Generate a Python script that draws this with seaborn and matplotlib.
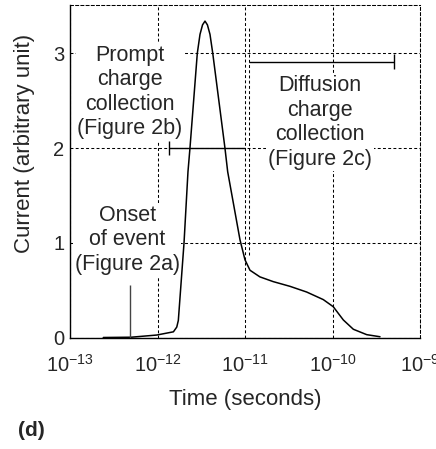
import matplotlib
matplotlib.use("Agg")
import matplotlib.pyplot as plt
import seaborn as sns
import pandas as pd

# --- Data ---
time_s = [2.40e-13, 5.0e-13, 9.8e-13, 1.52e-12, 1.66e-12, 1.73e-12, 2.01e-12,
          2.23e-12, 2.35e-12, 2.85e-12, 3.06e-12, 3.27e-12, 3.49e-12, 3.72e-12,
          3.98e-12, 4.28e-12, 5.90e-12, 6.34e-12, 8.77e-12, 1.0e-11, 1.14e-11,
          1.48e-11, 2.10e-11, 3.27e-11, 5.07e-11, 7.85e-11, 1.02e-10, 1.33e-10,
          1.73e-10, 2.46e-10, 3.49e-10]
current = [0.0, 0.003, 0.026, 0.06, 0.11, 0.18, 1.0,
           1.75, 2.0, 3.0, 3.2, 3.30, 3.34, 3.30,
           3.2, 3.0, 2.0, 1.75, 1.03, 0.82, 0.71,
           0.64, 0.59, 0.54, 0.48, 0.40, 0.325, 0.185,
           0.087, 0.03, 0.008]

x_ticks = [1e-13, 1e-12, 1e-11, 1e-10, 1e-9]
y_ticks = [0, 1, 2, 3]

onset_time = 4.9e-13
onset_height = 0.55
prompt_span = [1.35e-12, 1.0e-11]
prompt_level = 2.0
diffusion_span = [1.12e-11, 5.1e-10]
diffusion_level = 2.91
diffusion_edge = [0.87, 3.27]

labels = {
    "prompt": ("Prompt\ncharge\ncollection\n(Figure 2b)", 4.85e-13, 2.59),
    "onset": ("Onset\nof event\n(Figure 2a)", 4.5e-13, 1.03),
    "diffusion": ("Diffusion\ncharge\ncollection\n(Figure 2c)", 7.2e-11, 2.27),
}

df = pd.DataFrame({"Time": time_s, "Current": current})

# --- Style ---
sns.set_style("white")
plt.rcParams["font.family"] = ["Liberation Sans", "DejaVu Sans"]
plt.rcParams["mathtext.fontset"] = "custom"
plt.rcParams["mathtext.rm"] = "Liberation Sans"
plt.rcParams["mathtext.it"] = "Liberation Sans:italic"
plt.rcParams["mathtext.bf"] = "Liberation Sans:bold"
plt.rcParams["mathtext.default"] = "regular"

fig = plt.figure(figsize=(4.36, 4.49), dpi=100)
ax = fig.add_axes([70 / 436, 1 - 337.5 / 449, 350 / 436, 332.5 / 449])

dash = (0, (2.8, 2.2))

# --- Curve ---
sns.lineplot(data=df, x="Time", y="Current", ax=ax, color="black",
             lw=1.1, zorder=4)

ax.set_xscale("log")
ax.set_xlim(x_ticks[0], x_ticks[-1])
ax.set_ylim(0, 3.51)
ax.set_xticks(x_ticks)
ax.set_yticks(y_ticks)
ax.minorticks_off()
ax.tick_params(length=0, labelsize=14.5)
ax.tick_params(axis="x", pad=12)
ax.tick_params(axis="y", pad=4)

# --- Grid & frame ---
ax.grid(True, color="black", lw=0.75, linestyle=dash)
ax.set_axisbelow(True)
for side in ["top", "right"]:
    ax.spines[side].set_linestyle(dash)
    ax.spines[side].set_linewidth(0.75)
    ax.spines[side].set_color("black")
for side in ["left", "bottom"]:
    ax.spines[side].set_linewidth(1.0)
    ax.spines[side].set_color("black")

# --- Annotations ---
ax.vlines(onset_time, 0, onset_height, color="#444444", lw=1.0, zorder=4)

ax.hlines(prompt_level, prompt_span[0], prompt_span[1], color="black", lw=1.0, zorder=4)
ax.vlines(prompt_span[0], prompt_level - 0.07, prompt_level + 0.07, color="black", lw=1.0, zorder=4)

ax.hlines(diffusion_level, diffusion_span[0], diffusion_span[1], color="black", lw=1.0, zorder=4)
ax.vlines(diffusion_span[1], diffusion_level - 0.08, diffusion_level + 0.08, color="black", lw=1.0, zorder=4)
ax.vlines(diffusion_span[0], diffusion_edge[0], diffusion_edge[1], color="black",
          lw=0.75, linestyle=dash, zorder=2)

for key, (txt, tx, ty) in labels.items():
    ax.text(tx, ty, txt, ha="center", va="center", fontsize=15.5, linespacing=1.22,
            zorder=3, bbox=dict(boxstyle="square,pad=0.08", fc="white", ec="none"))

ax.set_xlabel("Time (seconds)", fontsize=16, va="top")
ax.xaxis.set_label_coords(0.5, -0.155)
ax.set_ylabel("Current (arbitrary unit)", fontsize=16)
ax.yaxis.set_label_coords(-0.1, 0.585)

fig.text(18 / 436, 1 - 431 / 449, "(d)", fontsize=15, fontweight="bold", va="center")

fig.savefig("out.png", dpi=100)
plt.close(fig)
